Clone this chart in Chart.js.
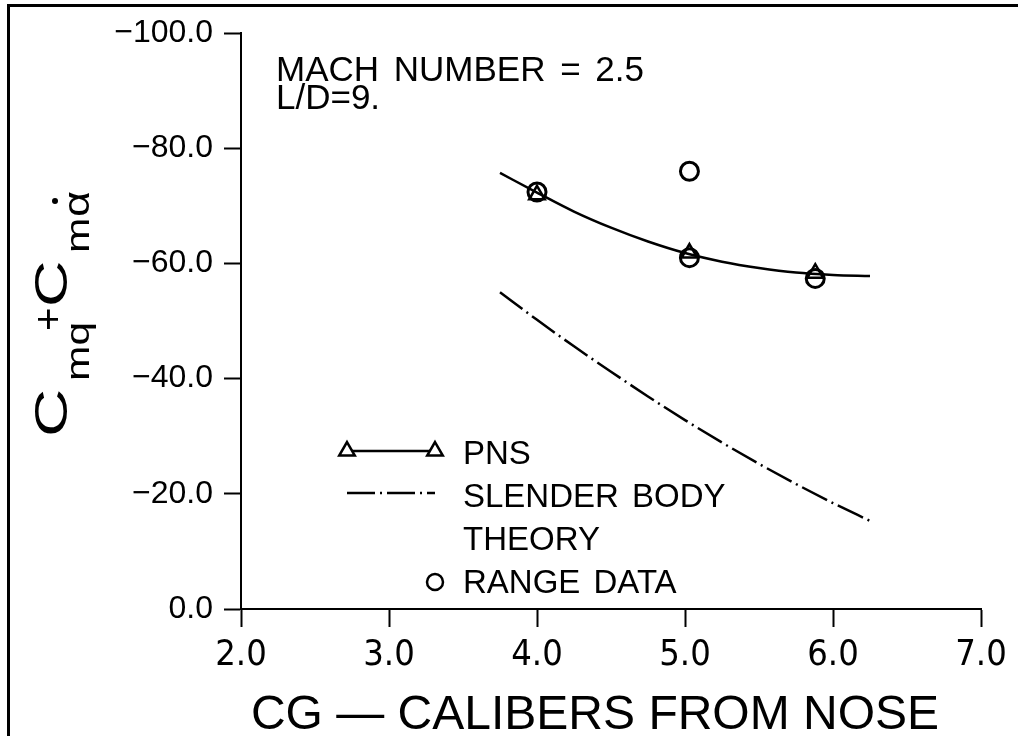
<!DOCTYPE html>
<html>
<head>
<meta charset="utf-8">
<script src="https://cdn.jsdelivr.net/npm/chart.js@4.4.0/dist/chart.umd.min.js"></script>
<style>
  html, body { margin: 0; padding: 0; background: #fff; }
  #wrap { position: relative; width: 1018px; height: 736px; overflow: hidden; }
  #frame { position: absolute; left: 7px; top: 4px; right: -10px; bottom: -10px;
           border-top: 3px solid #000; border-left: 3px solid #000; pointer-events: none; }
</style>
</head>
<body>
<div id="wrap">
  <canvas id="chart" width="1018" height="736"></canvas>
  <div id="frame"></div>
</div>
<script>
// curve stations (CG, calibers from nose)
const curveX = [3.75, 4.0, 4.25, 4.5, 4.75, 5.0, 5.25, 5.5, 5.75, 6.0, 6.25];
const pnsCurve = [-75.7, -72.3, -69.0, -66.2, -63.8, -61.8, -60.3, -59.2, -58.4, -58.0, -57.8];
const slenderCurve = [-55.0, -50.2, -45.6, -41.2, -36.9, -32.8, -28.9, -25.2, -21.7, -18.4, -15.3];

// PNS computed points (triangles)
const pnsX = [4.0, 5.03, 5.88];
const pnsY = [-71.9, -61.8, -58.3];

// range data (circles)
const rangeX = [4.0, 5.03, 5.03, 5.88];
const rangeY = [-72.4, -76.0, -61.0, -57.4];

const xTicks = [2.0, 3.0, 4.0, 5.0, 6.0, 7.0];
const yTicks = [0, -20, -40, -60, -80, -100];

const FONT = "'Liberation Sans', Arial, sans-serif";
const NARROW = "'Liberation Sans Narrow', 'DejaVu Sans Condensed', 'Liberation Sans', sans-serif";

const fmt = v => v.toFixed(1).replace('-', '\u2212');
const pts = (xs, ys) => xs.map((x, i) => ({ x: x, y: ys[i] }));

// text, legend and frame annotations
const notes = {
  id: 'notes',
  afterDraw(chart) {
    const ctx = chart.ctx;
    ctx.save();
    ctx.fillStyle = '#000';
    ctx.strokeStyle = '#000';
    ctx.textBaseline = 'alphabetic';
    ctx.textAlign = 'left';

    // header text
    ctx.font = '35px ' + FONT;
    ctx.wordSpacing = '5px';
    ctx.fillText('MACH NUMBER = 2.5', 276, 81);
    ctx.wordSpacing = '0px';
    ctx.fillText('L/D=9.', 276, 109);

    // legend
    ctx.font = '33px ' + FONT;
    ctx.wordSpacing = '4px';
    ctx.fillText('PNS', 463, 464);
    ctx.fillText('SLENDER BODY', 463, 507);
    ctx.fillText('THEORY', 463, 550);
    ctx.fillText('RANGE DATA', 463, 593);
    ctx.wordSpacing = '0px';

    ctx.lineWidth = 2.5;
    ctx.beginPath();
    ctx.moveTo(347, 451); ctx.lineTo(435, 451);
    ctx.stroke();
    [347, 435].forEach(cx => {
      const r = 9, cy = 451;
      ctx.beginPath();
      ctx.moveTo(cx, cy - r);
      ctx.lineTo(cx + r * 0.866, cy + r * 0.5);
      ctx.lineTo(cx - r * 0.866, cy + r * 0.5);
      ctx.closePath();
      ctx.fillStyle = '#fff';
      ctx.fill();
      ctx.stroke();
    });
    ctx.fillStyle = '#000';
    ctx.setLineDash([28, 5, 2, 5]);
    ctx.beginPath();
    ctx.moveTo(347, 493); ctx.lineTo(435, 493);
    ctx.stroke();
    ctx.setLineDash([]);
    ctx.lineWidth = 2.5;
    ctx.beginPath();
    ctx.arc(435, 582, 8, 0, Math.PI * 2);
    ctx.stroke();

    // x axis title
    ctx.font = '48px ' + FONT;
    ctx.textAlign = 'center';
    ctx.fillText('CG \u2014 CALIBERS FROM NOSE', 595, 729);

    // y axis title: C_mq + C_m(alpha dot), rotated
    ctx.translate(67, 437);
    ctx.rotate(-Math.PI / 2);
    ctx.textAlign = 'left';
    const piece = (txt, at, size, shift, sx) => {
      ctx.save();
      ctx.translate(at, shift);
      ctx.scale(sx, 1);
      ctx.font = size + 'px ' + FONT;
      ctx.fillText(txt, 0, 0);
      ctx.restore();
    };
    piece('C', 0, 46, 0, 1.45);
    piece('mq', 56, 34, 22, 1.25);
    piece('+', 106, 40, -5, 1.0);
    piece('C', 130, 46, 0, 1.4);
    piece('m', 184, 34, 22, 1.25);
    piece('\u03b1', 220, 36, 22, 1.25);
    ctx.beginPath();
    ctx.arc(236, -12, 3, 0, Math.PI * 2);
    ctx.fill();

    ctx.restore();
  }
};

const axisGrid = len => ({
  drawOnChartArea: false,
  drawTicks: true,
  tickLength: len,
  tickWidth: 2,
  tickColor: '#000'
});

new Chart(document.getElementById('chart'), {
  type: 'scatter',
  data: {
    datasets: [
      {
        label: 'PNS curve',
        data: pts(curveX, pnsCurve),
        showLine: true,
        borderColor: '#000',
        borderWidth: 2.5,
        pointRadius: 0,
        cubicInterpolationMode: 'monotone'
      },
      {
        label: 'Slender body theory',
        data: pts(curveX, slenderCurve),
        showLine: true,
        borderColor: '#000',
        borderWidth: 2.5,
        borderDash: [28, 5, 2, 5],
        pointRadius: 0,
        cubicInterpolationMode: 'monotone'
      },
      {
        label: 'PNS',
        data: pts(pnsX, pnsY),
        pointStyle: 'triangle',
        pointRadius: 9,
        borderWidth: 2.5,
        borderColor: '#000',
        backgroundColor: 'rgba(0,0,0,0)'
      },
      {
        label: 'Range data',
        data: pts(rangeX, rangeY),
        pointStyle: 'circle',
        pointRadius: 9,
        borderWidth: 3,
        borderColor: '#000',
        backgroundColor: 'rgba(0,0,0,0)'
      }
    ]
  },
  options: {
    responsive: false,
    animation: false,
    devicePixelRatio: 1,
    layout: { padding: { top: 33, right: 37, left: 0, bottom: 0 } },
    plugins: { legend: { display: false }, tooltip: { enabled: false } },
    scales: {
      x: {
        type: 'linear',
        min: 2, max: 7,
        afterBuildTicks: s => { s.ticks = xTicks.map(v => ({ value: v })); },
        afterFit: s => { s.height = 127; },
        ticks: { color: '#000', font: { family: NARROW, size: 36 }, padding: 7,
                 maxRotation: 0, autoSkip: false, callback: v => fmt(v) },
        grid: axisGrid(18),
        border: { display: true, color: '#000', width: 2 }
      },
      y: {
        type: 'linear',
        min: -100, max: 0,
        reverse: true,
        afterBuildTicks: s => { s.ticks = yTicks.map(v => ({ value: v })); },
        afterFit: s => { s.width = 241; },
        ticks: { color: '#000', font: { family: FONT, size: 32 }, padding: 11,
                 autoSkip: false, callback: v => fmt(v) },
        grid: axisGrid(17),
        border: { display: true, color: '#000', width: 2 }
      }
    }
  },
  plugins: [notes]
});
</script>
</body>
</html>
